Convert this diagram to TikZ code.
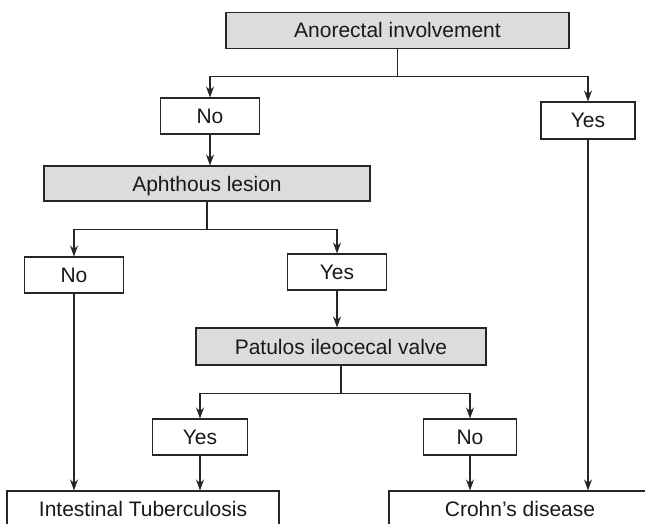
\documentclass[tikz,border=0pt]{standalone}
\usepackage{fontspec}
\setmainfont{Liberation Sans}
\usetikzlibrary{arrows.meta}
\definecolor{boxgrey}{RGB}{220,220,220}

\begin{document}
\begin{tikzpicture}
[x=1pt,y=-1pt,
  box/.style={shape=rectangle,draw=black!85,line width=1.1pt,inner sep=0pt,
    minimum height=36pt,text height=15pt,text depth=0pt,text=black!90,
    font=\fontsize{21}{25}\selectfont},
  grey/.style={box,fill=boxgrey},
  plain/.style={box,fill=white},
  wire/.style={draw=black!85,line width=1.1pt},
  flow/.style={wire,-{Stealth[length=11pt,width=8pt]}}]

\clip (0,0) rectangle (645,524);

% questions
\node (anor) at (397.5,30.5) [grey,minimum width=343pt] {Anorectal involvement};
\node (aph) at (207,183.5) [grey,minimum width=326pt,minimum height=35pt] {Aphthous lesion};
\node (pat) at (341,346.5) [grey,minimum width=290pt,minimum height=37pt] {Patulos ileocecal valve};

% answers
\node (no1) at (210,116) [plain,minimum width=99pt] {No};
\node (yes1) at (588,120.5) [plain,minimum width=94pt,minimum height=37pt] {Yes};
\node (no2) at (74,275) [plain,minimum width=99pt] {No};
\node (yes2) at (337,272) [plain,minimum width=99pt] {Yes};
\node (yes3) at (200,437) [plain,minimum width=95pt] {Yes};
\node (no3) at (470,437) [plain,minimum width=93pt] {No};

% diagnoses
\node (intb) at (143,509) [plain,minimum width=272pt] {Intestinal Tuberculosis};
\node (crohn) at (520,509) [plain,minimum width=262pt] {Crohn’s disease};

% branches
\path (anor.south) ++(0,27.5) coordinate (j1);
\path (aph.south) ++(0,28) coordinate (j2);
\path (pat.south) ++(0,28) coordinate (j3);

\draw [wire] (anor.south) -- (j1);
\draw [flow] (j1) -| (no1.north);
\draw [flow] (j1) -| (yes1.north);
\draw [flow] (no1.south) -- (no1.south |- aph.north);

\draw [wire] (aph.south) -- (j2);
\draw [flow] (j2) -| (no2.north);
\draw [flow] (j2) -| (yes2.north);
\draw [flow] (yes2.south) -- (yes2.south |- pat.north);

\draw [wire] (pat.south) -- (j3);
\draw [flow] (j3) -| (yes3.north);
\draw [flow] (j3) -| (no3.north);

\draw [flow] (no2.south) -- (no2.south |- intb.north);
\draw [flow] (yes3.south) -- (yes3.south |- intb.north);
\draw [flow] (no3.south) -- (no3.south |- crohn.north);
\draw [flow] (yes1.south) -- (yes1.south |- crohn.north);
\end{tikzpicture}
\end{document}
